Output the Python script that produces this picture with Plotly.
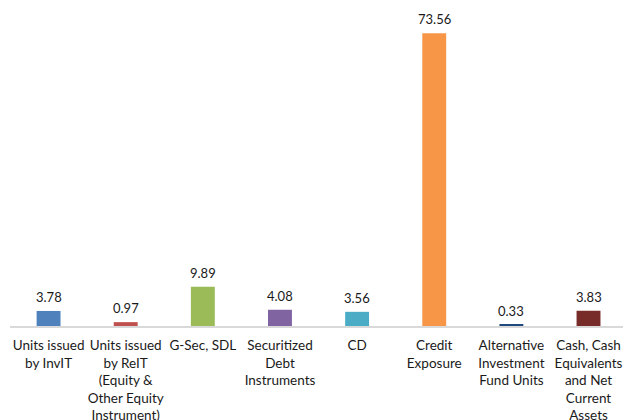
import plotly.graph_objects as go

categories = [
    "Units issued<br>by InvIT",
    "Units issued<br>by ReIT<br>(Equity &<br>Other Equity<br>Instrument)",
    "G-Sec, SDL",
    "Securitized<br>Debt<br>Instruments",
    "CD",
    "Credit<br>Exposure",
    "Alternative<br>Investment<br>Fund Units",
    "Cash, Cash<br>Equivalents<br>and Net<br>Current<br>Assets",
]
values = [3.78, 0.97, 9.89, 4.08, 3.56, 73.56, 0.33, 3.83]
labels = ["3.78", "0.97", "9.89", "4.08", "3.56", "73.56", "0.33", "3.83"]
colors = ["#4F81BD", "#C0504D", "#9BBB59", "#8064A2", "#4BACC6", "#F79646", "#1F497D", "#772C2A"]

FONT = "Lato, 'Open Sans', sans-serif"
TXT = "#1a1a1a"

xs = list(range(len(categories)))

fig = go.Figure(
    go.Bar(
        x=xs,
        y=values,
        marker=dict(color=colors, line=dict(width=0)),
        width=0.31,
        cliponaxis=False,
        hoverinfo="skip",
    )
)

for x, v, t in zip(xs, values, labels):
    fig.add_annotation(
        x=x, y=v, text=t, showarrow=False, yshift=14, yanchor="middle",
        xanchor="center", font=dict(family=FONT, size=13, color=TXT),
    )

fig.update_layout(
    width=623,
    height=420,
    margin=dict(l=10, r=0, t=0, b=94, autoexpand=False),
    paper_bgcolor="white",
    plot_bgcolor="white",
    showlegend=False,
    font=dict(family=FONT, size=13, color=TXT),
    xaxis=dict(
        tickmode="array",
        tickvals=xs,
        ticktext=categories,
        range=[-0.5, 7.447],
        showgrid=False,
        zeroline=False,
        showline=True,
        linecolor="#D9D9D9",
        linewidth=2,
        ticks="",
        tickangle=0,
        automargin=False,
        ticklabelstandoff=6,
        tickfont=dict(family=FONT, size=13.5, color=TXT),
    ),
    yaxis=dict(
        range=[0, 81.9],
        visible=False,
        showgrid=False,
        zeroline=False,
        automargin=False,
    ),
)

fig.write_html(
    "out.html",
    config={"displayModeBar": False},
    post_script="document.body.style.margin='0';document.body.style.overflow='hidden';",
)
